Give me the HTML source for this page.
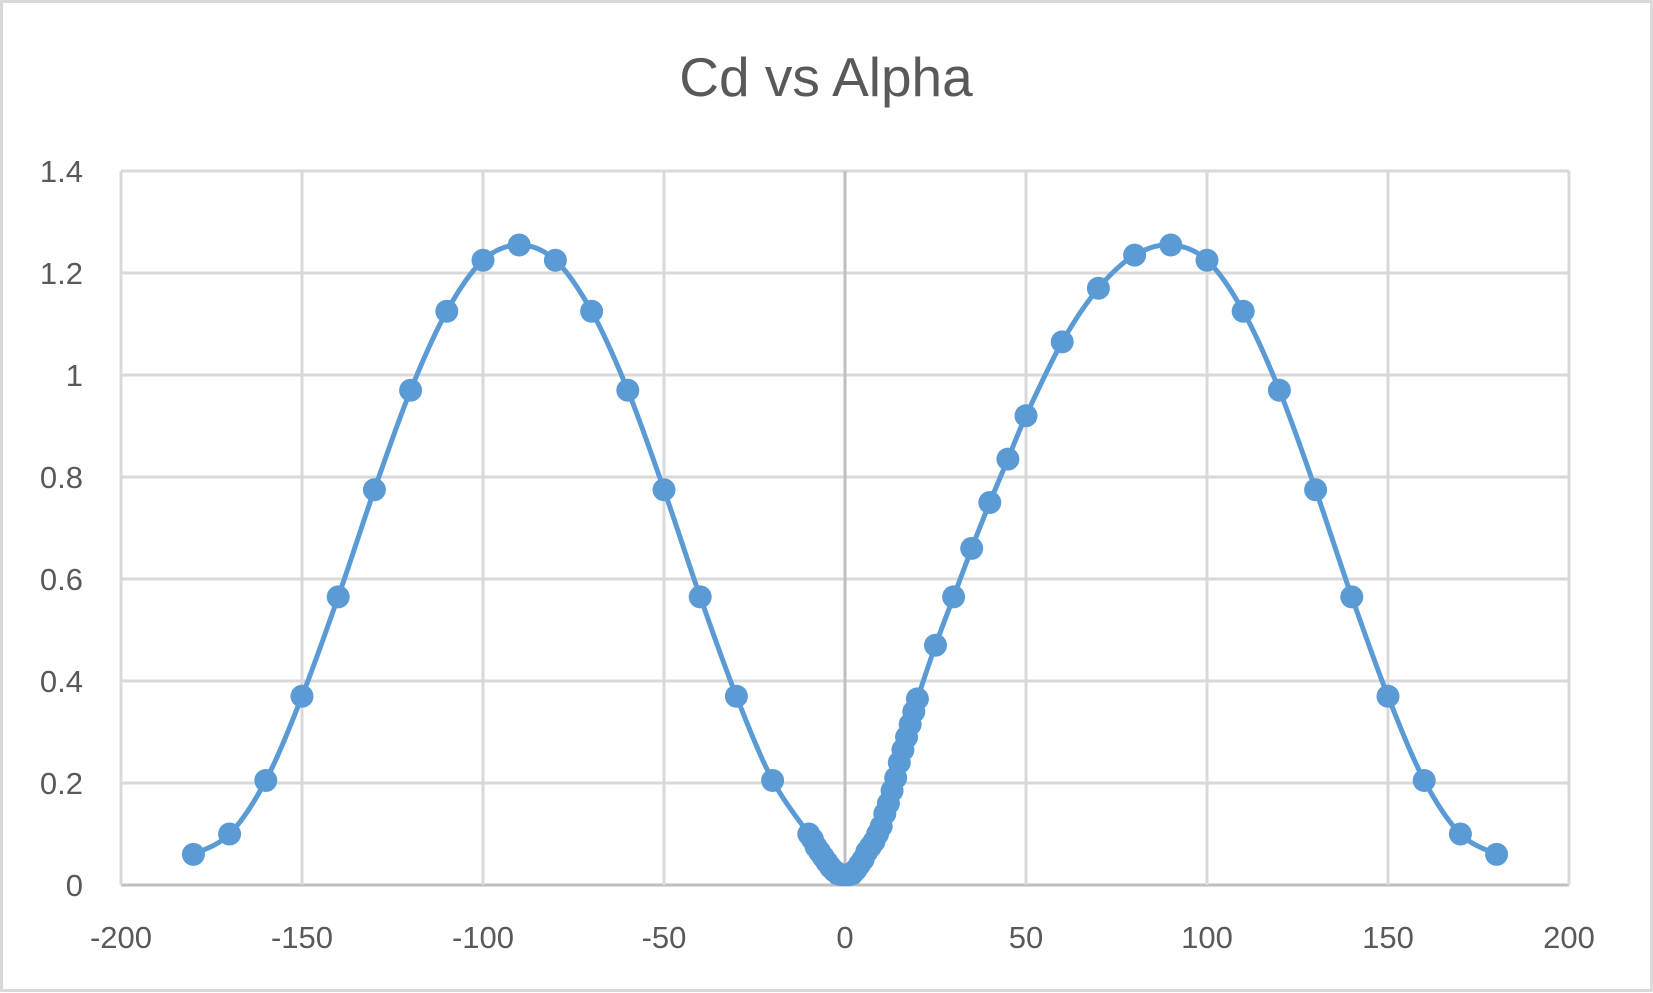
<!DOCTYPE html>
<html><head><meta charset="utf-8"><style>
html,body{margin:0;padding:0;background:#fff;}
svg{display:block;font-family:"Liberation Sans",sans-serif;}
</style></head><body>
<svg id="chart" width="1653" height="993" viewBox="0 0 1653 993">
<rect x="1.5" y="1.5" width="1650" height="989" fill="#fff" stroke="#d9d9d9" stroke-width="3"/>
<text x="826" y="96" text-anchor="middle" font-size="55" fill="#595959">Cd vs Alpha</text>
<g id="grid"></g><g id="series"></g><g id="labels"></g>
</svg>
<script>
const xTicks=[-200,-150,-100,-50,0,50,100,150,200];
const yTicks=[0,0.2,0.4,0.6,0.8,1,1.2,1.4];
const yTickLabels=["0","0.2","0.4","0.6","0.8","1","1.2","1.4"];
const alpha=[-180,-170,-160,-150,-140,-130,-120,-110,-100,-90,-80,-70,-60,-50,-40,-30,-20,-10,-9,-8,-7,-6,-5,-4,-3,-2,-1,0,1,2,3,4,5,6,7,8,9,10,11,12,13,14,15,16,17,18,19,20,25,30,35,40,45,50,60,70,80,90,100,110,120,130,140,150,160,170,180];
const cd=[0.06,0.10,0.205,0.37,0.565,0.775,0.97,1.125,1.225,1.255,1.225,1.125,0.97,0.775,0.565,0.37,0.205,0.10,0.09,0.075,0.065,0.055,0.045,0.035,0.028,0.022,0.02,0.02,0.02,0.022,0.03,0.04,0.05,0.065,0.075,0.085,0.1,0.115,0.14,0.16,0.185,0.21,0.24,0.265,0.29,0.315,0.34,0.365,0.47,0.565,0.66,0.75,0.835,0.92,1.065,1.17,1.235,1.255,1.225,1.125,0.97,0.775,0.565,0.37,0.205,0.10,0.06];
const L=121,R=1569,T=171,B=885;
const xs=v=>L+(v+200)/400*(R-L);
const ys=v=>B-v/1.4*(B-T);
const NS="http://www.w3.org/2000/svg";
function mk(t,a,p){const e=document.createElementNS(NS,t);for(const k in a)e.setAttribute(k,a[k]);p.appendChild(e);return e;}
const grid=document.getElementById('grid'),ser=document.getElementById('series'),lab=document.getElementById('labels');
yTicks.forEach((v,i)=>{
  const l=mk('line',{x1:L,x2:R,y1:ys(v),y2:ys(v),stroke:v===0?'#bfbfbf':'#d9d9d9','stroke-width':3},grid);
  
  
  const t=mk('text',{x:83,y:ys(v)+11,'text-anchor':'end','font-size':31,fill:'#595959'},lab);
  t.textContent=yTickLabels[i];
  
  
});
xTicks.forEach(v=>{
  const l=mk('line',{x1:xs(v),x2:xs(v),y1:T,y2:B,stroke:v===0?'#bfbfbf':'#d9d9d9','stroke-width':3},grid);
  
  
  const t=mk('text',{x:xs(v),y:948,'text-anchor':'middle','font-size':31,fill:'#595959'},lab);
  t.textContent=String(v);
  
  
});
const P=alpha.map((a,i)=>[xs(a),ys(cd[i])]);
let d='M'+P[0][0]+','+P[0][1];
for(let i=0;i<P.length-1;i++){
  const p0=P[Math.max(0,i-1)],p1=P[i],p2=P[i+1],p3=P[Math.min(P.length-1,i+2)];
  const c1=[p1[0]+(p2[0]-p0[0])/6,p1[1]+(p2[1]-p0[1])/6];
  const c2=[p2[0]-(p3[0]-p1[0])/6,p2[1]-(p3[1]-p1[1])/6];
  d+=` C${c1[0]},${c1[1]} ${c2[0]},${c2[1]} ${p2[0]},${p2[1]}`;
}
const line=mk('path',{d:d,fill:'none',stroke:'#5b9bd5','stroke-width':5,'stroke-linejoin':'round'},ser);


P.forEach(p=>{
  const c=mk('circle',{cx:p[0],cy:p[1],r:11.5,fill:'#5b9bd5'},ser);
  
  
});
</script>
</body></html>
